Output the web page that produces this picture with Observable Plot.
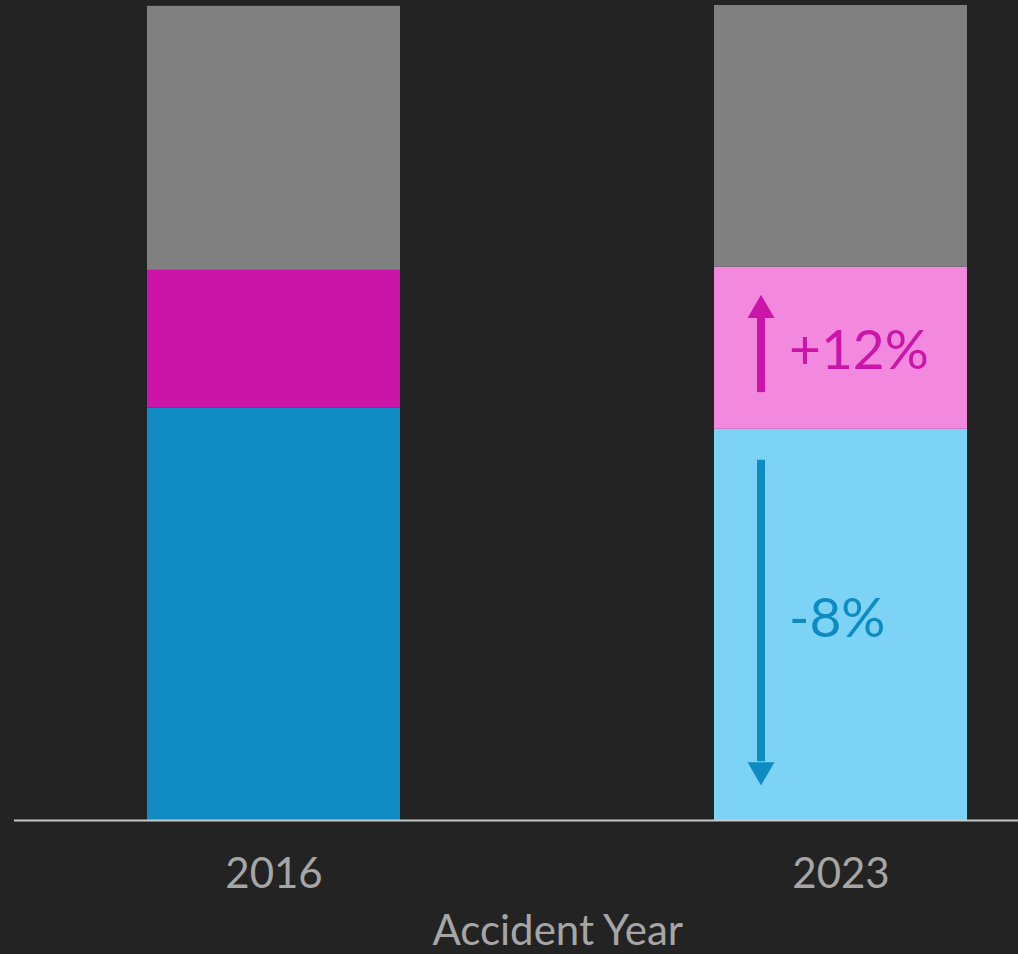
<!DOCTYPE html>
<html>
<head>
<meta charset="utf-8">
<script src="https://cdn.jsdelivr.net/npm/d3@7"></script>
<script src="https://cdn.jsdelivr.net/npm/@observablehq/plot@0.6"></script>
<style>
  html, body { margin: 0; padding: 0; background: #232323; }
  #chart { width: 1018px; height: 954px; overflow: hidden; }
</style>
</head>
<body>
<div id="chart"></div>
<script>
// Data (share of total)
const years = ["2016", "2023"];
const categories = ["Blue", "Pink", "Other"];
const values2016 = [50.6, 16.9, 32.4];
const values2023 = [48.0, 19.9, 32.1];
const segmentColors2016 = ["#0E8CC2", "#CB15A8", "#808080"];
const segmentColors2023 = ["#7DD3F5", "#F389DF", "#808080"];

// Annotations
const changeLabels = ["+12%", "-8%"];
const changeLabelY = [57.6, 24.7];
const changeColors = ["#CB15A8", "#0E8CC2"];
const arrowShaftY1 = [52.5, 44.2];
const arrowShaftY2 = [61.6, 7.2];
const arrowHeadY = [62.6, 6.2];
const arrowRotate = [0, 180];

const segments = [];
years.forEach((yr, yi) => {
  const vals = yi === 0 ? values2016 : values2023;
  const cols = yi === 0 ? segmentColors2016 : segmentColors2023;
  categories.forEach((c, ci) => {
    segments.push({year: yr, category: c, value: vals[ci], key: yr + "-" + c, color: cols[ci]});
  });
});

const annotations = changeLabels.map((t, i) => ({
  year: "2023", label: t, labelY: changeLabelY[i], color: changeColors[i],
  y1: arrowShaftY1[i], y2: arrowShaftY2[i], headY: arrowHeadY[i], rotate: arrowRotate[i]
}));

const font = "Lato, 'Open Sans', sans-serif";

const plot = Plot.plot({
  width: 1018,
  height: 954,
  marginLeft: 147,
  marginRight: 50.5,
  marginTop: 5,
  marginBottom: 134,
  style: {background: "#232323", color: "#A6A6A6", fontFamily: font},
  x: {domain: years, paddingInner: 0.554, paddingOuter: 0, label: null},
  y: {domain: [0, 100], axis: null},
  color: {domain: segments.map(d => d.key), range: segments.map(d => d.color)},
  marks: [
    Plot.barY(segments, Plot.stackY({x: "year", y: "value", fill: "key", order: categories})),
    Plot.ruleY([0], {stroke: "#C8C8C8", strokeWidth: 2, insetLeft: -133, insetRight: -50.5}),
    Plot.ruleX(annotations, {x: "year", y1: "y1", y2: "y2", stroke: "color", strokeWidth: 8, dx: -80}),
    Plot.dot(annotations, {x: "year", y: "headY", symbol: "triangle", r: 10, fill: "color", stroke: null, rotate: "rotate", dx: -80}),
    Plot.text(annotations, {x: "year", y: "labelY", text: "label", fill: "color", fontSize: 55, textAnchor: "start", dx: -52, fontFamily: font}),
    Plot.axisX({tickSize: 0, tickPadding: 38, fontSize: 42, label: "Accident Year", labelAnchor: "center", labelArrow: "none", labelOffset: 124, fill: "#A6A6A6"})
  ]
});

document.getElementById("chart").appendChild(plot);
</script>
</body>
</html>
